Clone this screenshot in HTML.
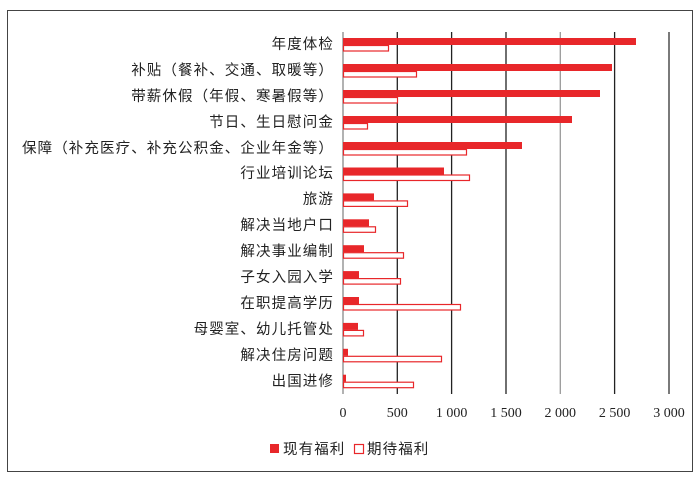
<!DOCTYPE html>
<html><head><meta charset="utf-8"><style>
html,body{margin:0;padding:0;background:#fff;width:700px;height:480px;overflow:hidden}
svg{display:block}
.c{font-family:"Liberation Sans","Noto Sans CJK SC",sans-serif;font-size:14.5px;fill:#222;letter-spacing:1.1px}
.t{font-family:"Liberation Serif","Noto Serif CJK SC",serif;font-size:14px;fill:#222}
</style></head><body>
<svg width="700" height="480" viewBox="0 0 700 480" xmlns="http://www.w3.org/2000/svg">
<rect x="7.5" y="10.5" width="685" height="461" fill="#fff" stroke="#444" stroke-width="1"/>
<g stroke-width="1.3">
<line x1="343" y1="32" x2="343" y2="394" stroke="#888"/>
<line x1="397.3" y1="32" x2="397.3" y2="394" stroke="#222"/>
<line x1="451.6" y1="32" x2="451.6" y2="394" stroke="#222"/>
<line x1="506" y1="32" x2="506" y2="394" stroke="#222"/>
<line x1="560.3" y1="32" x2="560.3" y2="394" stroke="#999"/>
<line x1="614.6" y1="32" x2="614.6" y2="394" stroke="#222"/>
<line x1="669" y1="32" x2="669" y2="394" stroke="#333"/>
</g>
<g fill="#e8272a">
<rect x="343" y="38" width="293" height="7"/>
<rect x="343" y="64" width="269" height="7"/>
<rect x="343" y="90" width="257" height="7"/>
<rect x="343" y="116" width="229" height="7"/>
<rect x="343" y="142" width="179" height="7"/>
<rect x="343" y="167.5" width="101" height="7"/>
<rect x="343" y="193.4" width="31" height="7"/>
<rect x="343" y="219.3" width="26" height="7"/>
<rect x="343" y="245.2" width="21" height="7"/>
<rect x="343" y="271.1" width="16" height="7"/>
<rect x="343" y="297" width="16" height="7"/>
<rect x="343" y="322.9" width="15" height="7"/>
<rect x="343" y="348.8" width="5" height="7"/>
<rect x="343" y="374.7" width="3" height="7"/>
</g>
<g fill="#fff" stroke="#e8272a" stroke-width="1.2">
<rect x="343.5" y="45.5" width="45" height="5.5"/>
<rect x="343.5" y="71.5" width="73" height="5.5"/>
<rect x="343.5" y="97.5" width="54" height="5.5"/>
<rect x="343.5" y="123.5" width="24" height="5.5"/>
<rect x="343.5" y="149.5" width="123" height="5.5"/>
<rect x="343.5" y="175" width="126" height="5.5"/>
<rect x="343.5" y="200.9" width="64" height="5.5"/>
<rect x="343.5" y="226.8" width="32" height="5.5"/>
<rect x="343.5" y="252.7" width="60" height="5.5"/>
<rect x="343.5" y="278.6" width="57" height="5.5"/>
<rect x="343.5" y="304.5" width="117" height="5.5"/>
<rect x="343.5" y="330.4" width="20" height="5.5"/>
<rect x="343.5" y="356.3" width="98" height="5.5"/>
<rect x="343.5" y="382.2" width="70" height="5.5"/>
</g>
<g class="c" text-anchor="end">
<text x="334" y="49">年度体检</text>
<text x="334" y="75">补贴（餐补、交通、取暖等）</text>
<text x="334" y="101">带薪休假（年假、寒暑假等）</text>
<text x="334" y="127">节日、生日慰问金</text>
<text x="334" y="153">保障（补充医疗、补充公积金、企业年金等）</text>
<text x="334" y="178">行业培训论坛</text>
<text x="334" y="204">旅游</text>
<text x="334" y="230">解决当地户口</text>
<text x="334" y="256">解决事业编制</text>
<text x="334" y="282">子女入园入学</text>
<text x="334" y="308">在职提高学历</text>
<text x="334" y="334">母婴室、幼儿托管处</text>
<text x="334" y="360">解决住房问题</text>
<text x="334" y="386">出国进修</text>
</g>
<g class="t" text-anchor="middle">
<text x="343" y="417">0</text>
<text x="397.3" y="417">500</text>
<text x="451.6" y="417">1 000</text>
<text x="506" y="417">1 500</text>
<text x="560.3" y="417">2 000</text>
<text x="614.6" y="417">2 500</text>
<text x="669" y="417">3 000</text>
</g>
<rect x="270" y="444" width="9" height="9" fill="#e8272a"/>
<text class="c" x="283" y="454">现有福利</text>
<rect x="354.5" y="444.5" width="9" height="9" fill="#fff" stroke="#e8272a" stroke-width="1.2"/>
<text class="c" x="367" y="454">期待福利</text>
</svg>
</body></html>
